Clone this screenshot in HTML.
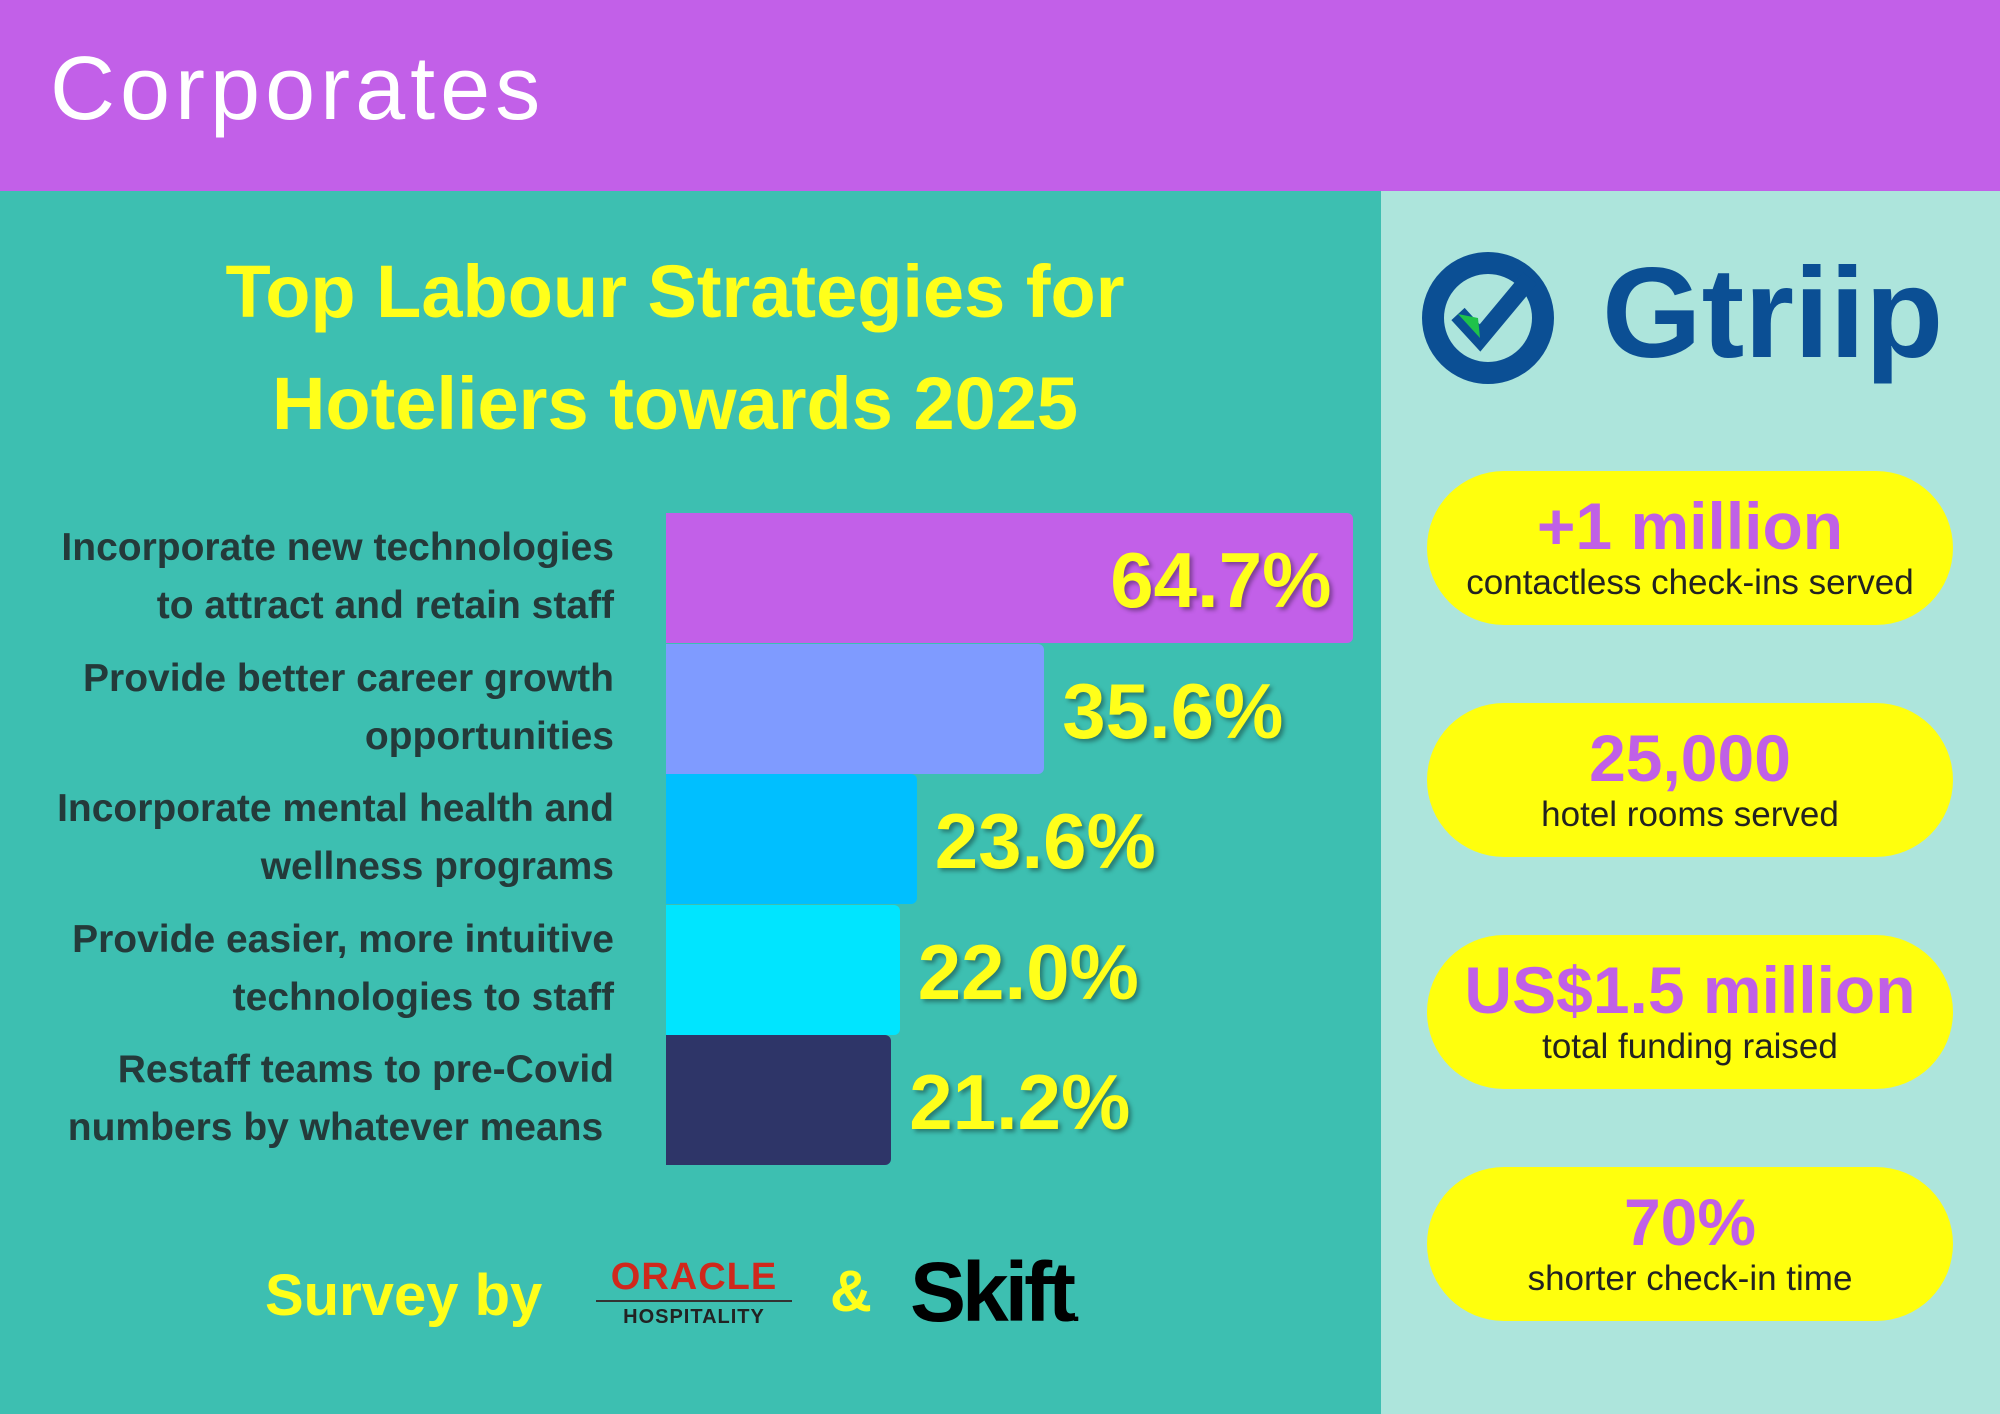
<!DOCTYPE html>
<html><head><meta charset="utf-8">
<style>
body{margin:0;width:2000px;height:1414px;overflow:hidden;font-family:"Liberation Sans",sans-serif;}
#root{position:relative;width:2000px;height:1414px;background:#3dbfb1;}
.abs{position:absolute;}
.lab{position:absolute;right:1386px;text-align:right;color:#243a3a;font-size:39px;font-weight:bold;line-height:58px;white-space:nowrap;}
.val{position:absolute;color:#ffff1a;font-size:78px;font-weight:bold;text-shadow:3px 3px 4px rgba(0,0,0,0.35);line-height:1;}
.pill{position:absolute;left:1427px;width:526px;height:154px;border-radius:77px;background:#ffff0d;text-align:center;}
.pill .b{color:#c060e6;font-size:66px;font-weight:bold;line-height:1;margin-top:22px;}
.pill .s{color:#222;font-size:35px;line-height:1;margin-top:6px;font-weight:500;}
</style></head><body>
<div id="root">
<div class="abs" style="left:0;top:0;width:2000px;height:191px;background:#c260e8;"></div>
<div class="abs" style="left:50px;top:44px;color:#fff;font-size:90px;letter-spacing:5px;line-height:1;">Corporates</div>
<div class="abs" style="left:1381px;top:191px;width:619px;height:1223px;background:#ade5dc;"></div>
<div class="abs" style="left:0;width:1350px;top:236px;text-align:center;color:#ffff1a;font-size:74px;font-weight:bold;line-height:112px;">Top Labour Strategies for<br>Hoteliers towards 2025</div>
<div id="chart"></div>
<div class="abs" style="left:265px;top:1262px;color:#ffff1a;font-size:58px;font-weight:bold;">Survey by</div>
<div class="abs" style="left:596px;top:1258px;width:196px;text-align:center;">
<div style="color:#d0281c;font-size:38px;font-weight:bold;letter-spacing:1px;line-height:1;">ORACLE</div>
<div style="border-top:2px solid #333;margin-top:4px;padding-top:4px;color:#222;font-size:20px;font-weight:bold;letter-spacing:1px;">HOSPITALITY</div></div>
<div class="abs" style="left:830px;top:1258px;color:#ffff1a;font-size:58px;font-weight:bold;">&amp;</div>
<div class="abs" style="left:910px;top:1244px;color:#000;font-size:84px;font-weight:bold;letter-spacing:-4px;">Skift<span style="font-size:30px">.</span></div>
<svg class="abs" style="left:1418px;top:248px;" width="140" height="140" viewBox="0 0 140 140">
<circle cx="70" cy="70" r="55" fill="none" stroke="#0b4f94" stroke-width="22"/>
<path d="M40 66 L62 90 L112 30" fill="none" stroke="#0b4f94" stroke-width="18"/>
<path d="M40 66 L62 90 L60 70 Z" fill="#1fc24a"/></svg>
<div class="abs" style="left:1602px;top:250px;color:#0b4f94;font-size:128px;font-weight:bold;line-height:1;">Gtriip</div>
<div class="pill" style="top:471px;"><div class="b">+1 million</div><div class="s">contactless check-ins served</div></div>
<div class="pill" style="top:703px;"><div class="b">25,000</div><div class="s">hotel rooms served</div></div>
<div class="pill" style="top:935px;"><div class="b">US$1.5 million</div><div class="s">total funding raised</div></div>
<div class="pill" style="top:1167px;"><div class="b">70%</div><div class="s">shorter check-in time</div></div>
</div>
<script>
const categories=["Incorporate new technologies<br>to attract and retain staff","Provide better career growth<br>opportunities","Incorporate mental health and<br>wellness programs","Provide easier, more intuitive<br>technologies to staff","Restaff teams to pre-Covid<br>numbers by whatever means&nbsp;"];
const values=[64.7,35.6,23.6,22.0,21.2];
const valueLabels=["64.7%","35.6%","23.6%","22.0%","21.2%"];
const colors=["#c260e8","#7f9bff","#00bfff","#00e5ff","#2e3568"];
const x0=666,pxPer=10.625,yTop=513,step=130.5,bh=130;
const xs=v=>v*pxPer;
const chart=document.getElementById('chart');
values.forEach((v,i)=>{
 const y=yTop+i*step;
 const b=document.createElement('div');
 
 
 b.className='abs';
 b.style.cssText=`left:${x0}px;top:${y}px;width:${xs(v)}px;height:${bh}px;background:${colors[i]};border-radius:0 6px 6px 0;`;
 chart.appendChild(b);
 const l=document.createElement('div');
 
 
 l.className='lab';l.innerHTML=categories[i];l.style.top=(y+6)+'px';
 chart.appendChild(l);
 const t=document.createElement('div');
 
 
 t.className='val';t.textContent=valueLabels[i];
 t.style.top=(y+28)+'px';
 if(i===0){t.style.right=(2000-(x0+xs(v))+22)+'px';}else{t.style.left=(x0+xs(v)+18)+'px';}
 chart.appendChild(t);
});
</script>
</body></html>
